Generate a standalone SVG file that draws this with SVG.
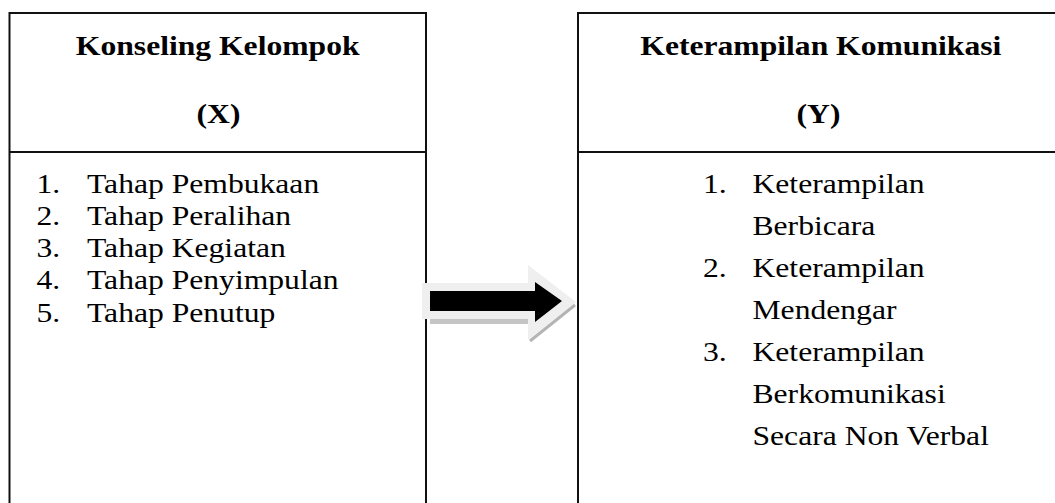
<svg xmlns="http://www.w3.org/2000/svg" width="1055" height="503" viewBox="0 0 1055 503">
<style>
.box{fill:none;stroke:#111;stroke-width:2}
.t{font-family:"Liberation Serif","Times New Roman",serif;font-size:27.5px;fill:#000}
.b{font-weight:bold}
.c{text-anchor:middle}
</style>
<rect width="1055" height="503" fill="#fff"/>
<g id="node-x">
<path class="box" d="M9.5,503 V13 H426 V503"/>
<path class="box" d="M9.5,152 H426"/>
<text class="t b c" transform="translate(217.7,55) scale(1.15,1)">Konseling Kelompok</text>
<text class="t b c" transform="translate(218.5,123) scale(1.15,1)">(X)</text>
<text class="t" transform="translate(36.5,192.5) scale(1.15,1)">1.</text>
<text class="t" transform="translate(87,192.5) scale(1.15,1)">Tahap Pembukaan</text>
<text class="t" transform="translate(36.5,224.8) scale(1.15,1)">2.</text>
<text class="t" transform="translate(87,224.8) scale(1.15,1)">Tahap Peralihan</text>
<text class="t" transform="translate(36.5,257.1) scale(1.15,1)">3.</text>
<text class="t" transform="translate(87,257.1) scale(1.15,1)">Tahap Kegiatan</text>
<text class="t" transform="translate(36.5,289.4) scale(1.15,1)">4.</text>
<text class="t" transform="translate(87,289.4) scale(1.15,1)">Tahap Penyimpulan</text>
<text class="t" transform="translate(36.5,321.7) scale(1.15,1)">5.</text>
<text class="t" transform="translate(87,321.7) scale(1.15,1)">Tahap Penutup</text>
</g>
<g id="node-y">
<path class="box" d="M578,503 V13 H1056"/>
<path class="box" d="M578,152 H1056"/>
<text class="t b c" transform="translate(820.8,55) scale(1.15,1)">Keterampilan Komunikasi</text>
<text class="t b c" transform="translate(818.5,123) scale(1.15,1)">(Y)</text>
<text class="t" transform="translate(703,192.5) scale(1.15,1)">1.</text>
<text class="t" transform="translate(752.5,192.5) scale(1.15,1)">Keterampilan</text>
<text class="t" transform="translate(752.5,234.5) scale(1.15,1)">Berbicara</text>
<text class="t" transform="translate(703,276.5) scale(1.15,1)">2.</text>
<text class="t" transform="translate(752.5,276.5) scale(1.15,1)">Keterampilan</text>
<text class="t" transform="translate(752.5,318.5) scale(1.15,1)">Mendengar</text>
<text class="t" transform="translate(703,360.5) scale(1.15,1)">3.</text>
<text class="t" transform="translate(752.5,360.5) scale(1.15,1)">Keterampilan</text>
<text class="t" transform="translate(752.5,402.5) scale(1.15,1)">Berkomunikasi</text>
<text class="t" transform="translate(752.5,444.5) scale(1.15,1)">Secara Non Verbal</text>
</g>
<g id="connectors">
<polygon points="422,283 528,283 528,265 576,302 528,340 528,319 422,319" fill="#efefef"/>
<rect x="430" y="319" width="98" height="5" fill="#c4c4c4"/>
<line x1="530" y1="341" x2="575" y2="305" stroke="#b4b4b4" stroke-width="3"/>
<polygon points="430,291 535,291 535,282 562,301 535,322 535,311 430,311" fill="#000"/>
</g>
</svg>
